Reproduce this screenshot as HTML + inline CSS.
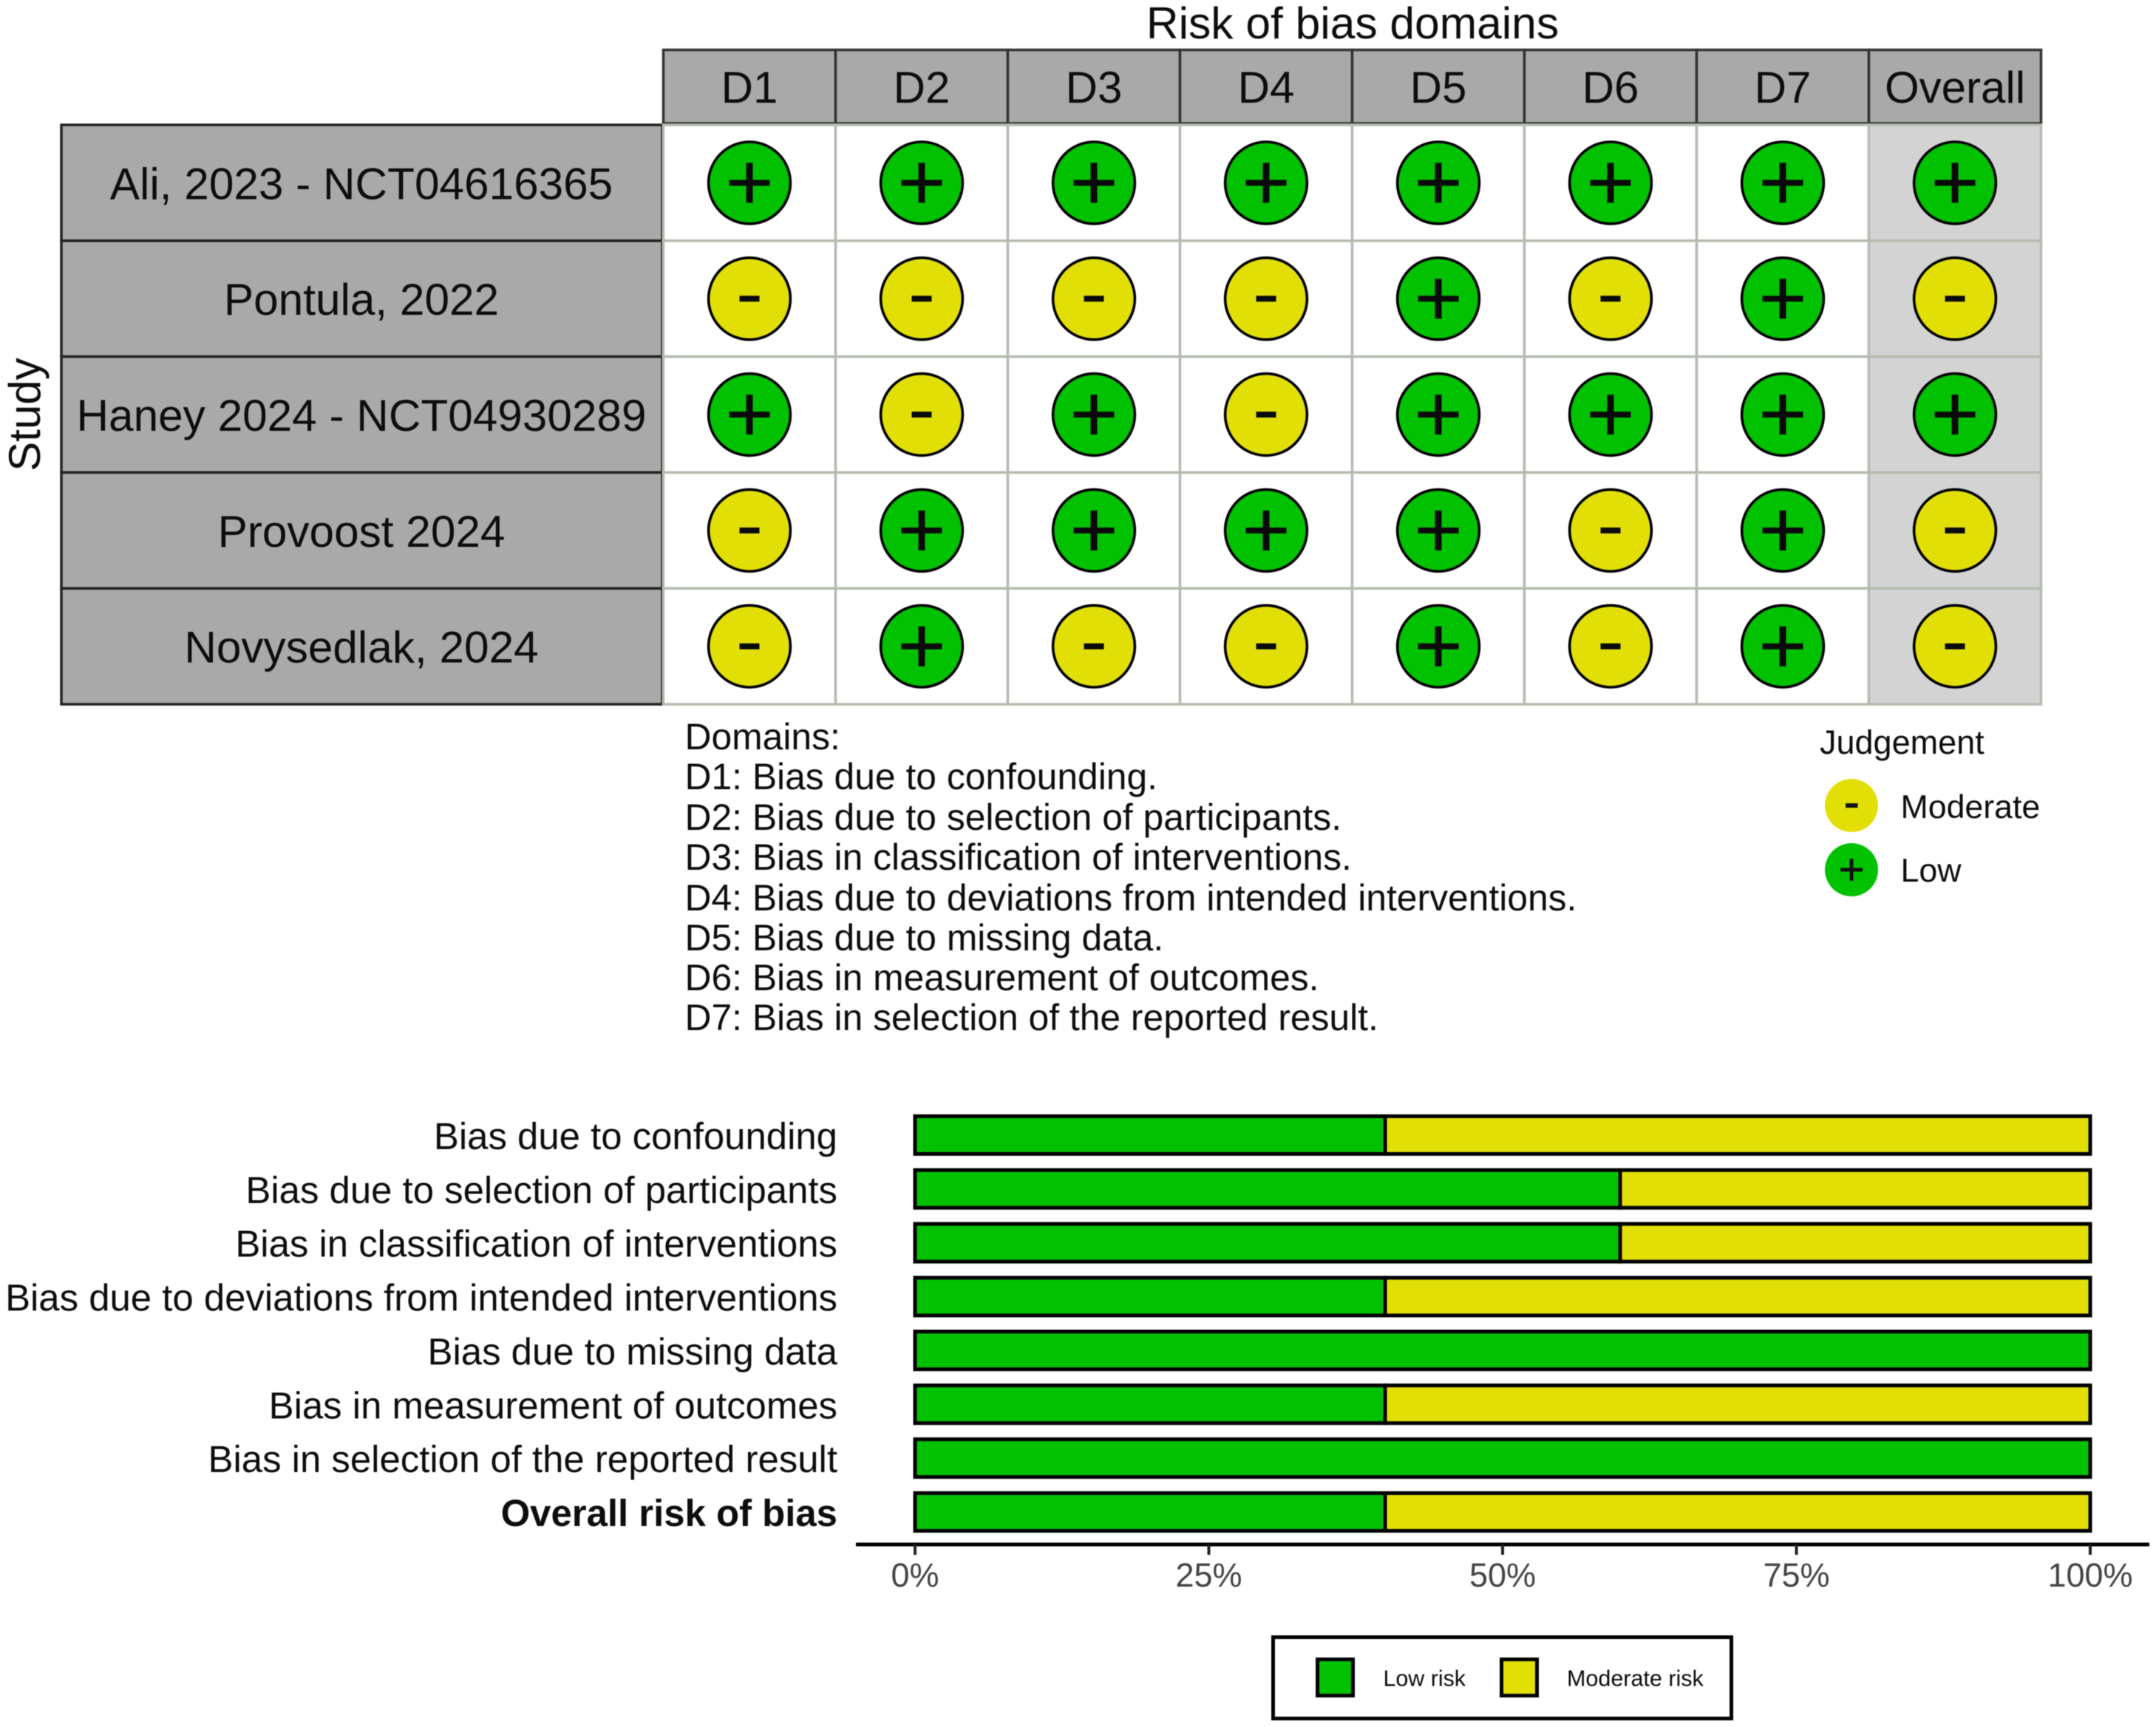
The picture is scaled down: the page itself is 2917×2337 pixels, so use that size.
<!DOCTYPE html>
<html lang="en">
<head>
<meta charset="utf-8">
<title>Risk of bias traffic light and summary plot</title>
<style>
  html, body { margin: 0; padding: 0; background: #fff; }
  #figure { display: block; width: 2917px; height: 2337px; font-family: "Liberation Sans", Arial, sans-serif; filter: blur(0.6px); }
  text { fill: #0d0d0d; }
</style>
</head>
<body>
<svg id="figure" xmlns="http://www.w3.org/2000/svg" width="2917" height="2337" viewBox="0 0 2917 2337">
  <rect x="0" y="0" width="2917" height="2337" fill="#ffffff"/>

  <text x="1830" y="52" font-size="60.5" text-anchor="middle">Risk of bias domains</text>
  <text transform="translate(54 561) rotate(-90)" font-size="60" text-anchor="middle">Study</text>

  <g id="traffic-light"></g>

  <g font-size="49.8">
    <text x="926.5" y="1014">Domains:</text>
    <text x="926.5" y="1068">D1: Bias due to confounding.</text>
    <text x="926.5" y="1123">D2: Bias due to selection of participants.</text>
    <text x="926.5" y="1177">D3: Bias in classification of interventions.</text>
    <text x="926.5" y="1232">D4: Bias due to deviations from intended interventions.</text>
    <text x="926.5" y="1286">D5: Bias due to missing data.</text>
    <text x="926.5" y="1340">D6: Bias in measurement of outcomes.</text>
    <text x="926.5" y="1394">D7: Bias in selection of the reported result.</text>
  </g>

  <g>
    <text x="2462" y="1020" font-size="45">Judgement</text>
    <g>
      <circle cx="2505" cy="1090" r="36" fill="#E2DF07"/>
      <rect x="2497" y="1087" width="16.5" height="6" fill="#111"/>
      <text x="2571.5" y="1107" font-size="44.7">Moderate</text>
    </g>
    <g>
      <circle cx="2505" cy="1177" r="36" fill="#02C100"/>
      <rect x="2490" y="1174.5" width="30" height="5" fill="#111"/>
      <rect x="2502.5" y="1162" width="5" height="30" fill="#111"/>
      <text x="2571.5" y="1193" font-size="44.7">Low</text>
    </g>
  </g>

  <g id="summary"></g>

  <g>
    <rect x="1722.5" y="2215.5" width="620" height="110" fill="#fff" stroke="#000" stroke-width="5"/>
    <rect x="1782.5" y="2245.5" width="48" height="49" fill="#02C100" stroke="#000" stroke-width="5"/>
    <text x="1871.5" y="2281.5" font-size="30.4">Low risk</text>
    <rect x="2031.5" y="2245.5" width="48" height="49" fill="#E2DF07" stroke="#000" stroke-width="5"/>
    <text x="2120" y="2281.5" font-size="30.5">Moderate risk</text>
  </g>
</svg>

<script>
/* ---- Traffic light data ---- */
var studies = ["Ali, 2023 - NCT04616365", "Pontula, 2022", "Haney 2024 - NCT04930289", "Provoost 2024", "Novysedlak, 2024"];
var domains = ["D1", "D2", "D3", "D4", "D5", "D6", "D7", "Overall"];
var judgementsAli = ["+", "+", "+", "+", "+", "+", "+", "+"];
var judgementsPontula = ["-", "-", "-", "-", "+", "-", "+", "-"];
var judgementsHaney = ["+", "-", "+", "-", "+", "+", "+", "+"];
var judgementsProvoost = ["-", "+", "+", "+", "+", "-", "+", "-"];
var judgementsNovysedlak = ["-", "+", "-", "-", "+", "-", "+", "-"];
var judgements = [judgementsAli, judgementsPontula, judgementsHaney, judgementsProvoost, judgementsNovysedlak];

/* ---- Summary chart data ---- */
var categories = ["Bias due to confounding", "Bias due to selection of participants", "Bias in classification of interventions", "Bias due to deviations from intended interventions", "Bias due to missing data", "Bias in measurement of outcomes", "Bias in selection of the reported result", "Overall risk of bias"];
var lowRisk = [40, 60, 60, 40, 100, 40, 100, 40];
var moderateRisk = [60, 40, 40, 60, 0, 60, 0, 60];
var tickValues = [0, 25, 50, 75, 100];
var tickLabels = ["0%", "25%", "50%", "75%", "100%"];

var SVG_NS = "http://www.w3.org/2000/svg";
var GREEN = "#02C100";
var YELLOW = "#E2DF07";

function make(tag, attrs, parent, content) {
  var el = document.createElementNS(SVG_NS, tag);
  for (var k in attrs) { el.setAttribute(k, attrs[k]); }
  if (content !== undefined) { el.textContent = content; }
  parent.appendChild(el);
  return el;
}

/* axis functions */
var gridLeft = 897.5, gridRight = 2761.5, gridTop = 169, gridBottom = 953;
function colWidth() { return (gridRight - gridLeft) / domains.length; }
function rowHeight() { return (gridBottom - gridTop) / studies.length; }
function colLeft(j) { return gridLeft + j * colWidth(); }
function rowTop(i) { return gridTop + i * rowHeight(); }
function colCenter(j) { return colLeft(j) + colWidth() / 2; }
function rowCenter(i) { return rowTop(i) + rowHeight() / 2; }
function xScale(v) { return 1238 + (v / 100) * (2828 - 1238); }
function yBand(i) { return 1536 + i * (2046 - 1536) / (categories.length - 1); }

/* ---- Draw traffic light ---- */
var tl = document.getElementById("traffic-light");
var i, j, el;

for (j = 0; j < domains.length; j++) {
  el = make("rect", { x: colLeft(j), y: 67.5, width: colWidth(), height: 99.5, fill: "#A9A9A9", stroke: "#333", "stroke-width": 3.5 }, tl);
  
  
  el = make("text", { x: colCenter(j), y: 139, "font-size": 60, "text-anchor": "middle" }, tl, domains[j]);
  
  
}

for (i = 0; i < studies.length; i++) {
  el = make("rect", { x: 83, y: rowTop(i), width: 813, height: rowHeight(), fill: "#A9A9A9", stroke: "#222", "stroke-width": 3.5 }, tl);
  
  
  el = make("text", { x: 489, y: rowCenter(i) + 22, "font-size": 60.3, "text-anchor": "middle" }, tl, studies[i]);
  
  
}

for (i = 0; i < studies.length; i++) {
  for (j = 0; j < domains.length; j++) {
    el = make("rect", { x: colLeft(j), y: rowTop(i), width: colWidth(), height: rowHeight(), fill: j === domains.length - 1 ? "#D3D3D3" : "#FFFFFF", stroke: "#B4BCB0", "stroke-width": 3.5 }, tl);
    
    
  }
}

for (i = 0; i < studies.length; i++) {
  for (j = 0; j < domains.length; j++) {
    var mark = judgements[i][j];
    var cx = colCenter(j), cy = rowCenter(i);
    el = make("circle", { cx: cx, cy: cy, r: 55.4, fill: mark === "+" ? GREEN : YELLOW, stroke: "#000", "stroke-width": 3.6 }, tl);
    
    
    if (mark === "+") {
      el = make("rect", { x: cx - 27.5, y: cy - 4, width: 55, height: 8, fill: "#0a0a0a" }, tl);
      
      
      el = make("rect", { x: cx - 4.5, y: cy - 27, width: 9, height: 54, fill: "#0a0a0a" }, tl);
      
      
    } else {
      el = make("rect", { x: cx - 13.5, y: cy - 4, width: 27, height: 8, fill: "#0a0a0a" }, tl);
      
      
    }
  }
}

/* ---- Draw summary bars ---- */
var sm = document.getElementById("summary");
var barHeight = 51;

for (i = 0; i < categories.length; i++) {
  var isOverall = i === categories.length - 1;
  el = make("text", { x: 1133, y: yBand(i) + 19, "font-size": 50.9, "text-anchor": "end", "font-weight": isOverall ? "bold" : "normal" }, sm, categories[i]);
  
  

  if (lowRisk[i] > 0) {
    el = make("rect", { x: xScale(0), y: yBand(i) - barHeight / 2, width: xScale(lowRisk[i]) - xScale(0), height: barHeight, fill: GREEN, stroke: "#000", "stroke-width": 5 }, sm);
    
    
  }
  if (moderateRisk[i] > 0) {
    el = make("rect", { x: xScale(lowRisk[i]), y: yBand(i) - barHeight / 2, width: xScale(lowRisk[i] + moderateRisk[i]) - xScale(lowRisk[i]), height: barHeight, fill: YELLOW, stroke: "#000", "stroke-width": 5 }, sm);
    
    
  }
}

el = make("line", { x1: 1158, x2: 2908, y1: 2090, y2: 2090, stroke: "#000", "stroke-width": 5 }, sm);



for (i = 0; i < tickValues.length; i++) {
  el = make("line", { x1: xScale(tickValues[i]), x2: xScale(tickValues[i]), y1: 2090, y2: 2104, stroke: "#222", "stroke-width": 4 }, sm);
  
  
  el = make("text", { x: xScale(tickValues[i]), y: 2147, "font-size": 45, "text-anchor": "middle", style: "fill:#444" }, sm, tickLabels[i]);
  
  
}
</script>
</body>
</html>
